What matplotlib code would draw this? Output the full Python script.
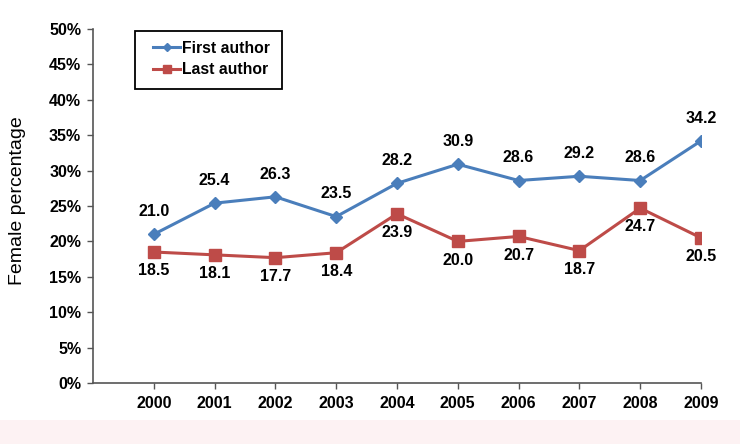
import matplotlib
matplotlib.use("Agg")
import matplotlib.pyplot as plt
from matplotlib.patches import Rectangle
from matplotlib.lines import Line2D

plt.rcParams['font.family'] = ['Liberation Sans', 'DejaVu Sans']

years = [2000, 2001, 2002, 2003, 2004, 2005, 2006, 2007, 2008, 2009]
first_author = [21.0, 25.4, 26.3, 23.5, 28.2, 30.9, 28.6, 29.2, 28.6, 34.2]
last_author = [18.5, 18.1, 17.7, 18.4, 23.9, 20.0, 20.7, 18.7, 24.7, 20.5]
yticks = [0, 5, 10, 15, 20, 25, 30, 35, 40, 45, 50]

blue = '#4a7ebb'
red = '#be4b48'
W, H = 740, 444

fig = plt.figure(figsize=(7.4, 4.44), dpi=100)
fig.patches.append(Rectangle((0, 0), 1, 24 / H, transform=fig.transFigure,
                             facecolor='#fdf2f3', edgecolor='none', zorder=0))
ax = fig.add_axes([93 / W, 61 / H, (701 - 93) / W, (383 - 29) / H])

ax.plot(years, first_author, color=blue, lw=2.2, marker='D', ms=6.5, zorder=3)
ax.plot(years, last_author, color=red, lw=2.2, marker='s', ms=8, zorder=3)

for x, y in zip(years, first_author):
    ax.annotate(f'{y:.1f}', (x, y), xytext=(0, 11), textcoords='offset points',
                ha='center', va='bottom', fontsize=11.5, fontweight='bold')
for x, y in zip(years, last_author):
    ax.annotate(f'{y:.1f}', (x, y), xytext=(0, -8), textcoords='offset points',
                ha='center', va='top', fontsize=11.5, fontweight='bold')

ax.set_xlim(1999, 2009)
ax.set_ylim(0, 50)
ax.set_xticks(years)
ax.set_xticklabels([str(y) for y in years], fontweight='bold', fontsize=11.5)
ax.set_yticks(yticks)
ax.set_yticklabels([f'{t}%' for t in yticks], fontweight='bold', fontsize=11.5)
ax.tick_params(axis='both', length=4, width=1, color='#555555', pad=4.5)
ax.tick_params(axis='x', pad=5.5)
for s in ['top', 'right']:
    ax.spines[s].set_visible(False)
for s in ['left', 'bottom']:
    ax.spines[s].set_color('#555555')
    ax.spines[s].set_linewidth(1.2)

ax.set_xlabel('Year', fontsize=14)
ax.xaxis.set_label_coords((393 - 93) / 608, (383 - 430) / 354)
ax.xaxis.label.set_va('center')
ax.set_ylabel('Female percentage', fontsize=14)
ax.yaxis.set_label_coords((18 - 93) / 608, (383 - 201) / 354)
ax.yaxis.label.set_va('center')

# legend
fig.patches.append(Rectangle((135 / W, 1 - 89 / H), (282 - 135) / W, 58 / H,
                             transform=fig.transFigure, facecolor='white',
                             edgecolor='black', linewidth=1.3, zorder=5))
handles = [Line2D([], [], color=blue, lw=2.2, marker='D', ms=4.5),
           Line2D([], [], color=red, lw=2.2, marker='s', ms=6)]
leg = fig.legend(handles, ['First author', 'Last author'], loc='upper left',
                 bbox_to_anchor=(145 / W, 1 - 33 / H), bbox_transform=fig.transFigure,
                 frameon=False, borderpad=0, handlelength=1.75, handletextpad=0.1,
                 labelspacing=0.42, prop={'weight': 'bold', 'size': 11.3})
leg.set_zorder(6)

fig.savefig('out.png', dpi=100)
